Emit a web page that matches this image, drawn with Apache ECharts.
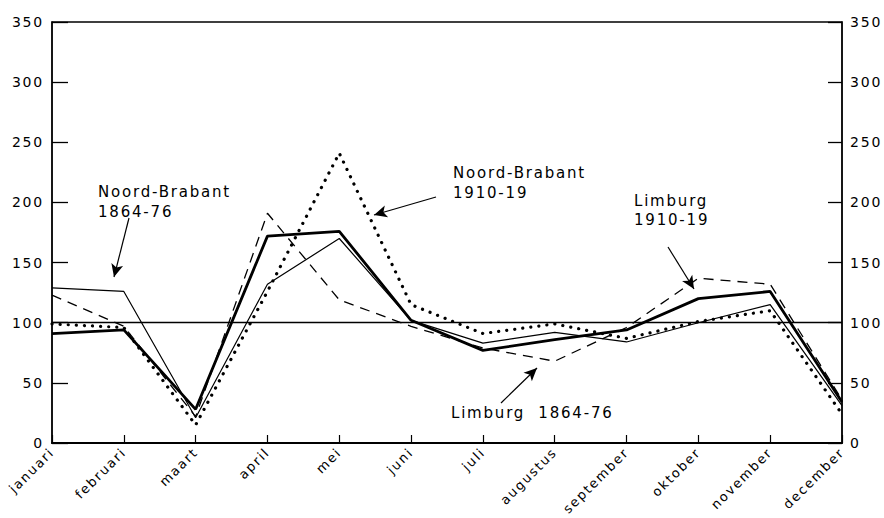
<!DOCTYPE html>
<html>
<head>
<meta charset="utf-8">
<script src="https://cdn.jsdelivr.net/npm/echarts@6/dist/echarts.min.js"></script>
<style>
	html, body { margin: 0; padding: 0; background: #fff; }
	#chartBox { width: 884px; height: 518px; }
	#chartBox text { letter-spacing: 1.8px; }
</style>
</head>
<body>
<div id="chartBox"></div>
<script>
// maanden
var months = ['januari', 'februari', 'maart', 'april', 'mei', 'juni', 'juli', 'augustus', 'september', 'oktober', 'november', 'december'];

// Noord-Brabant 1864-76 (dunne lijn)
var nb1864 = [129, 126, 21, 132, 170, 102, 83, 92, 84, 100, 115, 31];
// Noord-Brabant 1910-19 (stippel)
var nb1910 = [99, 96, 15, 126, 241, 115, 91, 99, 87, 101, 110, 24];
// Limburg 1864-76 (streep)
var lb1864 = [123, 97, 22, 191, 119, 97, 79, 68, 96, 137, 132, 36];
// Limburg 1910-19 (dikke lijn)
var lb1910 = [91, 94, 28, 172, 176, 102, 77, 86, 94, 120, 126, 34];

var yTicks = [0, 50, 100, 150, 200, 250, 300, 350];
var baseLine = 100;

var font = 'DejaVu Sans';

function yAxis(pos) {
	return {
		type: 'value',
		position: pos,
		min: yTicks[0],
		max: yTicks[yTicks.length - 1],
		interval: 50,
		axisLine: { show: true, lineStyle: { color: '#000', width: 1.5 } },
		axisTick: { show: true, inside: true, length: pos == 'left' ? 16 : 14, lineStyle: { color: '#000', width: 1.3 } },
		axisLabel: { color: '#000', fontSize: 14, fontFamily: font, margin: 8 },
		splitLine: { show: false }
	};
}

let myChart = echarts.init(document.getElementById('chartBox'), null, { renderer: 'svg' });
myChart.setOption({
	animation: false,
	backgroundColor: '#fff',
	grid: {
		left: 52, right: 42, top: 22, bottom: 75,
		show: true, borderColor: '#000', borderWidth: 1.3
	},
	xAxis: {
		type: 'category',
		data: months,
		boundaryGap: false,
		axisLine: { lineStyle: { color: '#000', width: 2 } },
		axisTick: { inside: true, length: 8, lineStyle: { color: '#000', width: 1.2 } },
		axisLabel: { color: '#000', fontSize: 13, fontFamily: font, rotate: 45, margin: 7, interval: 0 }
	},
	yAxis: [yAxis('left'), yAxis('right')],
	series: [
		{
			name: 'Noord-Brabant 1864-76',
			type: 'line',
			data: nb1864,
			symbol: 'none',
			lineStyle: { color: '#000', width: 1.2 },
			markLine: {
				silent: true,
				symbol: ['none', 'arrow'],
				symbolSize: [9, 13],
				label: { show: false },
				lineStyle: { color: '#000', width: 1.2, type: 'solid' },
				data: [
					// pijlen bij de teksten
					[{ x: 129, y: 218 }, { x: 114, y: 277 }],
					[{ x: 436, y: 197 }, { x: 374, y: 215 }],
					[{ x: 668, y: 247 }, { x: 694, y: 289 }],
					[{ x: 501, y: 403 }, { x: 537, y: 368 }]
				]
			}
		},
		{
			name: 'Noord-Brabant 1910-19',
			type: 'line',
			data: nb1910,
			symbol: 'none',
			lineStyle: { color: '#000', width: 3.2, type: [0.1, 8], cap: 'round' }
		},
		{
			name: 'Limburg 1864-76',
			type: 'line',
			data: lb1864,
			symbol: 'none',
			lineStyle: { color: '#000', width: 1.3, type: [10, 7] }
		},
		{
			name: 'Limburg 1910-19',
			type: 'line',
			data: lb1910,
			symbol: 'none',
			lineStyle: { color: '#000', width: 2.8 },
			// horizontale lijn op 100
			markLine: {
				silent: true,
				symbol: 'none',
				label: { show: false },
				lineStyle: { color: '#000', width: 1.3, type: 'solid' },
				data: [{ yAxis: baseLine }]
			}
		}
	],
	graphic: [
		{ type: 'text', left: 98, top: 182, style: { text: 'Noord-Brabant\n1864-76', font: '15px ' + font, fill: '#000', lineHeight: 20 } },
		{ type: 'text', left: 453, top: 163, style: { text: 'Noord-Brabant\n1910-19', font: '15px ' + font, fill: '#000', lineHeight: 20 } },
		{ type: 'text', left: 634, top: 191, style: { text: 'Limburg\n1910-19', font: '15px ' + font, fill: '#000', lineHeight: 19 } },
		{ type: 'text', left: 451, top: 405, style: { text: 'Limburg  1864-76', font: '15px ' + font, fill: '#000' } }
	]
});
</script>
</body>
</html>
